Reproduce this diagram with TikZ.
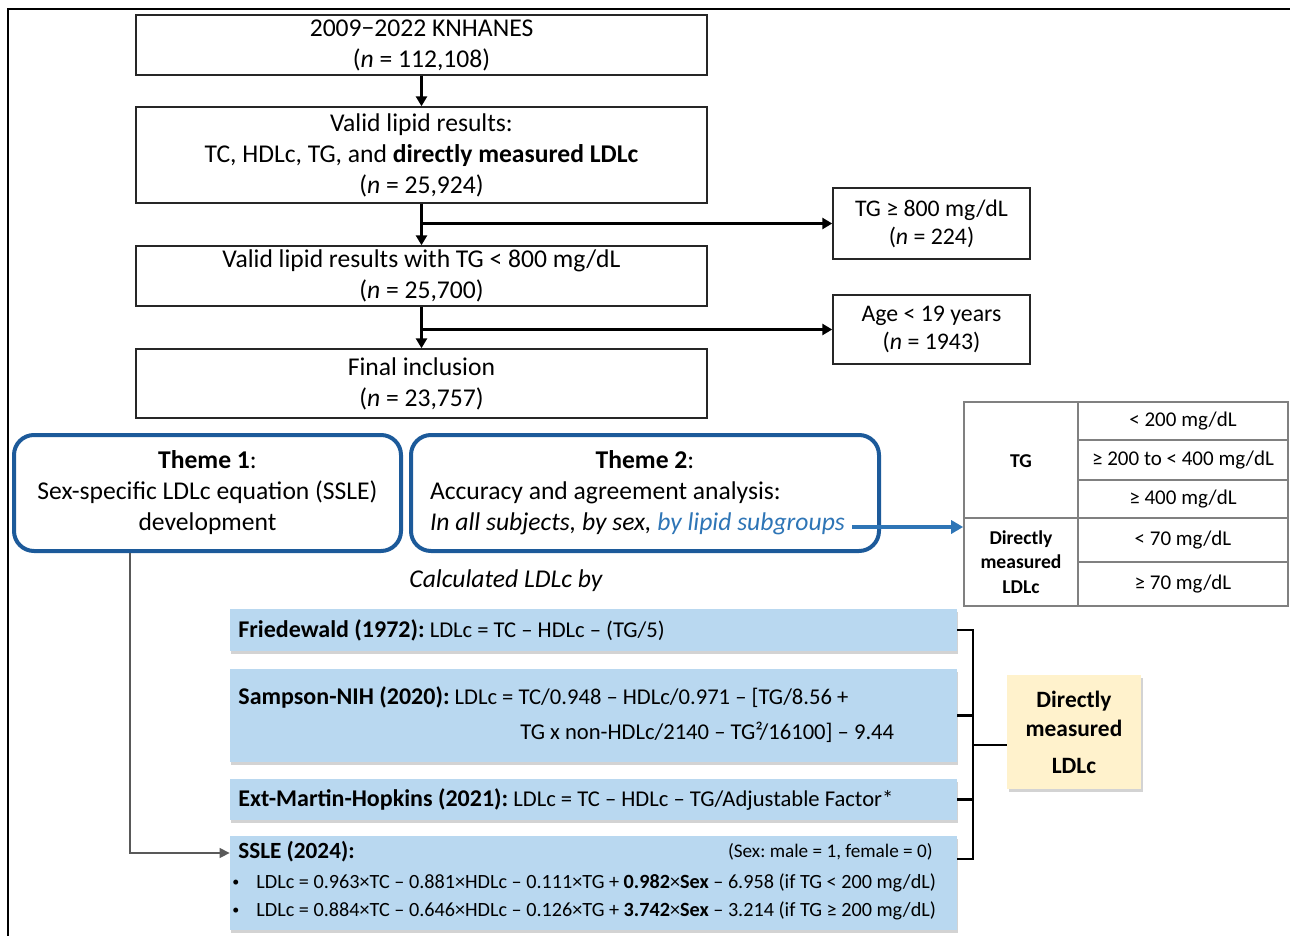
\documentclass[tikz,border=0pt]{standalone}
\usepackage{fontspec}
\setmainfont{Carlito}
\frenchspacing
\usetikzlibrary{arrows.meta,shadows,positioning}

\definecolor{themeblue}{HTML}{1C5A9A}
\definecolor{linkblue}{HTML}{2E75B6}
\definecolor{formfill}{HTML}{B9D8F0}
\definecolor{ldlfill}{HTML}{FFF2CC}
\definecolor{tblgray}{HTML}{808080}

\newcommand{\eqname}[1]{{\fontsize{12}{14}\selectfont\bfseries #1}}

\tikzset{
  flowbox/.style={draw=black!85, line width=0.7pt, minimum width=285.5pt, align=center, inner sep=2pt, font=\fontsize{12.8}{15.5}\selectfont},
  exclbox/.style={draw=black!85, line width=0.7pt, minimum width=98.5pt, align=center, inner sep=2pt, font=\fontsize{11.9}{14}\selectfont},
  themebox/.style={draw=themeblue, line width=2pt, rounded corners=10pt, minimum height=58pt, inner sep=2pt, font=\fontsize{12.8}{15.5}\selectfont},
  formbox/.style={fill=formfill, minimum width=363.5pt, inner sep=0pt, drop shadow={shadow xshift=0.3pt, shadow yshift=-1.5pt, opacity=0.35}},
  formtext/.style={anchor=west, inner sep=0pt, font=\fontsize{11.3}{13}\selectfont},
  sslietext/.style={anchor=west, inner sep=0pt, font=\fontsize{10.1}{12}\selectfont},
  tbltext/.style={inner sep=0pt, align=center, font=\fontsize{10.5}{12}\selectfont},
  tbllabel/.style={inner sep=0pt, align=center, font=\fontsize{9.8}{12.2}\selectfont\bfseries},
  tblline/.style={draw=tblgray, line width=0.8pt},
  ldlbox/.style={fill=ldlfill, minimum width=67pt, minimum height=57pt, align=center, font=\fontsize{11.7}{14.5}\selectfont\bfseries, drop shadow={shadow xshift=1pt, shadow yshift=-1.5pt, opacity=0.35}},
  flowarrow/.style={line width=1.4pt, -{Triangle[length=5pt,width=5.5pt]}},
  linkarrow/.style={draw=linkblue, line width=1.6pt, -{Triangle[length=6pt,width=6.5pt]}},
  linkline/.style={draw=black!65, line width=0.7pt, -{Triangle[length=5pt,width=5pt]}},
  bracketline/.style={line width=1.3pt},
}

\begin{document}
\begin{tikzpicture}[x=0.5pt,y=-0.5pt]
\useasboundingbox (0,0) rectangle (1290,936);

%frame
\draw[line width=1pt] (8,936) -- (8,9) -- (1290,9);

%flow boxes
\node[flowbox, minimum height=30pt, text depth=1.5pt] (knhanes) at (421.5,45) {2009−2022 KNHANES\\(\textit{n} = 112,108)};
\node[flowbox, minimum height=48pt, text depth=1.5pt] (valid) at (421.5,155) {Valid lipid results:\\TC, HDLc, TG, and \textbf{directly measured LDLc}\\(\textit{n} = 25,924)};
\node[flowbox, minimum height=30pt, text depth=1.5pt] (validtg) at (421.5,276) {Valid lipid results with TG < 800 mg/dL\\(\textit{n} = 25,700)};
\node[flowbox, minimum height=34.5pt, text depth=1.5pt] (final) at (421.5,383.5) {Final inclusion\\(\textit{n} = 23,757)};

%excluded
\node[exclbox, minimum height=35.5pt] (tgexcl) at (931.5,223.5) {TG ≥ 800 mg/dL\\(\textit{n} = 224)};
\node[exclbox, minimum height=34.5pt] (ageexcl) at (931.5,329.5) {Age < 19 years\\(\textit{n} = 1943)};

%knhanes->valid->validtg->final
\draw[flowarrow] (knhanes) -- (valid);
\draw[flowarrow] (valid) -- (validtg);
\draw[flowarrow] (validtg) -- (final);
\draw[flowarrow] (valid.south |- tgexcl.west) -- (tgexcl.west);
\draw[flowarrow] (validtg.south |- ageexcl.west) -- (ageexcl.west);

%themes
\node[themebox, minimum width=193.5pt, align=center] (theme1) at (207.5,493) {\textbf{Theme 1}:\\Sex-specific LDLc equation (SSLE)\\development};
\node[themebox, minimum width=234pt, align=center] (theme2) at (645,493) {\textbf{Theme 2}:\\\makebox[215pt][l]{Accuracy and agreement analysis:}\\\makebox[215pt][l]{\textit{In all subjects, by sex, \textcolor{linkblue}{by lipid subgroups}}}};

%lipid subgroups table
\node[draw=tblgray, line width=0.8pt, minimum width=162pt, minimum height=102pt, inner sep=0pt] (subgrp) at (1126,504) {};
\draw[tblline] (1078,402) -- (1078,606);
\draw[tblline] (1078,440) -- (1288,440);
\draw[tblline] (1078,480) -- (1288,480);
\draw[tblline] (964,518) -- (1288,518);
\draw[tblline] (1078,562) -- (1288,562);
\node[tbllabel] (tglab) at (1021,461) {TG};
\node[tbllabel] (ldllab) at (1021,562) {Directly\\measured\\LDLc};
\node[tbltext] (tgrow1) at (1183,421) {< 200 mg/dL};
\node[tbltext] (tgrow2) at (1183,460) {≥ 200 to < 400 mg/dL};
\node[tbltext] (tgrow3) at (1183,499) {≥ 400 mg/dL};
\node[tbltext] (ldlrow1) at (1183,540) {< 70 mg/dL};
\node[tbltext] (ldlrow2) at (1183,584) {≥ 70 mg/dL};

%theme2->table
\coordinate (subgrpfrom) at (852,527);
\draw[linkarrow] (subgrpfrom) -- (subgrpfrom -| subgrp.west);

\node[anchor=west, inner sep=0pt, font=\fontsize{12.8}{14}\selectfont\itshape] (calcby) at (409,581) {Calculated LDLc by};

%equations
\node[formbox, minimum height=21pt] (fried) at (593.5,630) {};
\node[formtext] (friedtxt) at (238,630) {\eqname{Friedewald (1972):} LDLc = TC – HDLc – (TG/5)};

\node[formbox, minimum height=46.5pt] (sampson) at (593.5,715.5) {};
\node[formtext] (sampsontxt) at (238,697) {\eqname{Sampson-NIH (2020):} LDLc = TC/0.948 – HDLc/0.971 – [TG/8.56 +};
\node[formtext] (sampsontxtb) at (520,732) {TG x non-HDLc/2140 – TG²/16100] – 9.44};

\node[formbox, minimum height=20.5pt] (extmh) at (593.5,799.5) {};
\node[formtext] (extmhtxt) at (238,800) {\eqname{Ext-Martin-Hopkins (2021):} LDLc = TC – HDLc – TG/Adjustable Factor*};

\node[formbox, minimum height=47pt] (ssle) at (593.5,883) {};
\node[formtext] (ssletxt) at (238,852) {{\fontsize{11.6}{13}\selectfont\bfseries SSLE (2024):}};
\node[sslietext, anchor=east, font=\fontsize{9.6}{12}\selectfont] (sslesex) at (933,852) {(Sex: male = 1, female = 0)};
\node[sslietext, font=\fontsize{7}{8}\selectfont] (sslebula) at (232,883) {•};
\node[sslietext] (ssleeqa) at (256,883) {LDLc = 0.963×TC – 0.881×HDLc – 0.111×TG + \textbf{0.982}×\textbf{Sex} – 6.958 (if TG < 200 mg/dL)};
\node[sslietext, font=\fontsize{7}{8}\selectfont] (sslebulb) at (232,911) {•};
\node[sslietext] (ssleeqb) at (256,911) {LDLc = 0.884×TC – 0.646×HDLc – 0.126×TG + \textbf{3.742}×\textbf{Sex} – 3.214 (if TG ≥ 200 mg/dL)};

%theme1->ssle
\draw[linkline] ([xshift=59pt]theme1.south west) |- ([yshift=15pt]ssle.west);

%reference
\node[ldlbox] (direct) at (1074,732) {Directly\\measured\\[4pt]LDLc};

%equations->reference
\coordinate (brk) at (973,745);
\draw[bracketline] (fried.east) -| ([yshift=12pt]ssle.east -| brk) -- ([yshift=12pt]ssle.east);
\draw[bracketline] (sampson.east) -- (sampson.east -| brk);
\draw[bracketline] (extmh.east) -- (extmh.east -| brk);
\draw[bracketline] (brk) -- (brk -| direct.west);

\end{tikzpicture}
\end{document}
